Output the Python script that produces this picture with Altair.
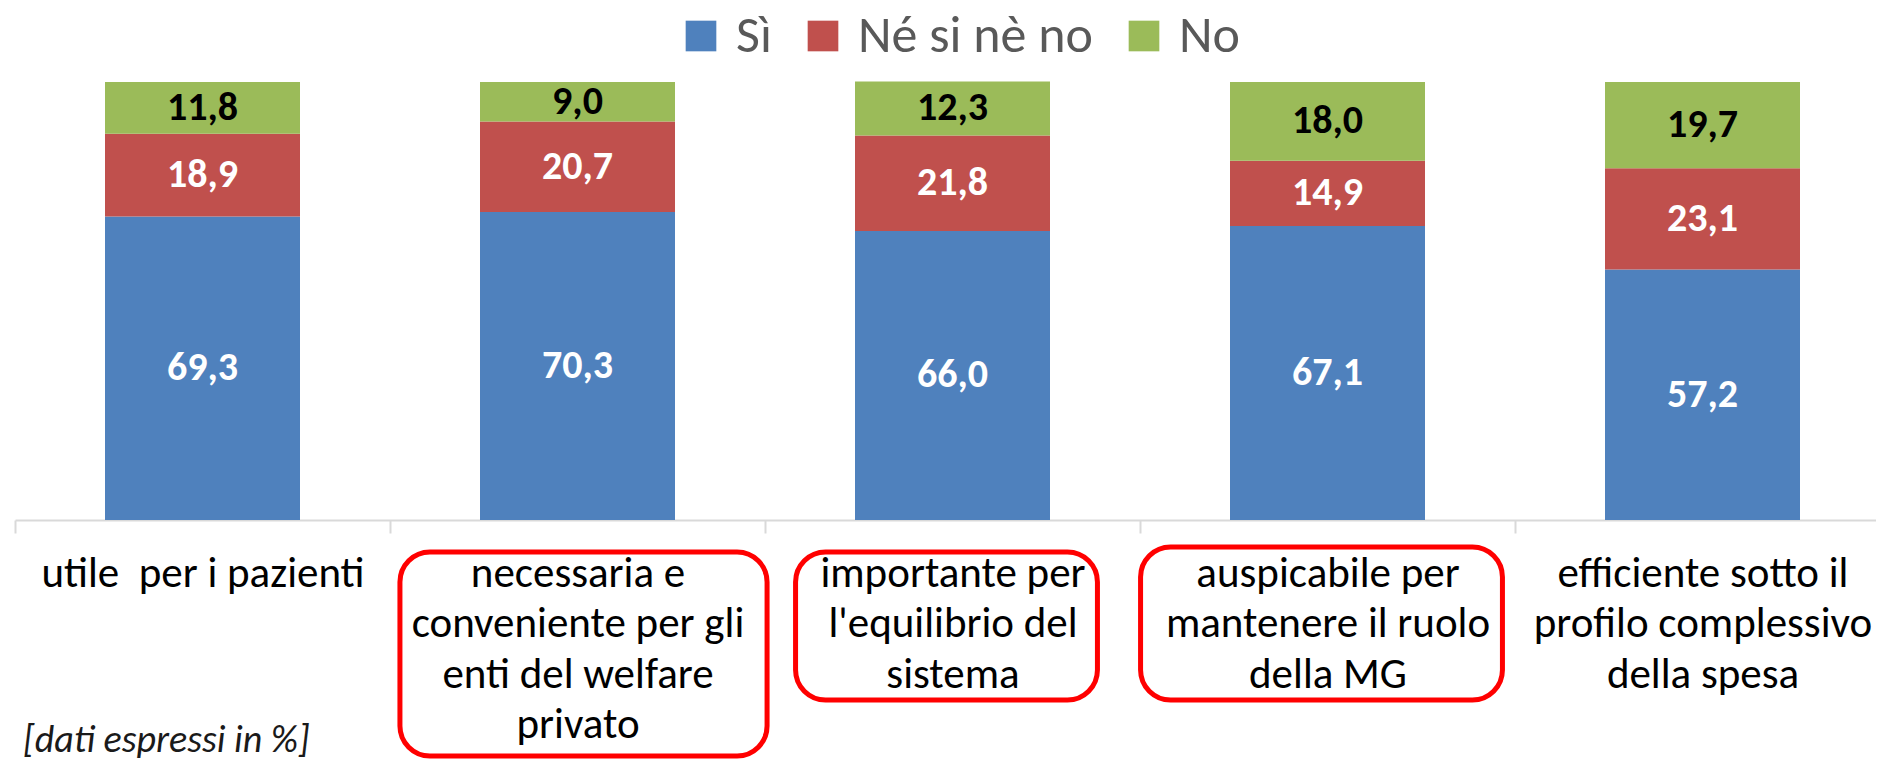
import altair as alt
import pandas as pd

categories = [
    "utile\u00a0 per i pazienti",
    "necessaria e\nconveniente per gli\nenti del welfare\nprivato",
    "importante per\nl'equilibrio del\nsistema",
    "auspicabile per\nmantenere il ruolo\ndella MG",
    "efficiente sotto il\nprofilo complessivo\ndella spesa",
]
series = ["Sì", "Né si nè no", "No"]
si = [69.3, 70.3, 66.0, 67.1, 57.2]
ne = [18.9, 20.7, 21.8, 14.9, 23.1]
no = [11.8, 9.0, 12.3, 18.0, 19.7]
colors = ["#4F81BD", "#C0504D", "#9BBB59"]
highlighted = [categories[1], categories[2], categories[3]]
note = "[dati espressi in %]"

FONT = "Carlito, Calibri, Lato, sans-serif"

rows = []
for i, c in enumerate(categories):
    for k, (s, vals) in enumerate(zip(series, [si, ne, no])):
        rows.append({"cat": c, "serie": s, "ord": k, "value": vals[i],
                     "label": f"{vals[i]:.1f}".replace(".", ",")})
df = pd.DataFrame(rows)

xscale = alt.Scale(range=[0, 1875], paddingInner=0, paddingOuter=0)
xenc = alt.X("cat:N", sort=categories, scale=xscale, title=None,
             axis=alt.Axis(labelExpr="split(datum.label, '\\n')", labelAngle=0,
                           labelFontSize=43, labelFont=FONT, labelColor="#000000",
                           labelLineHeight=50.5, labelPadding=19, labelLimit=0,
                           labelOverlap=False, tickSize=13, tickBand="extent",
                           domainColor="#D9D9D9", tickColor="#D9D9D9",
                           domainWidth=2, tickWidth=2, labelBaseline="top"))

base = alt.Chart(df).transform_stack(
    stack="value", groupby=["cat"], as_=["y0", "y1"],
    sort=[alt.SortField("ord", order="ascending")]
)

yscale = alt.Scale(domain=[0, 100], nice=False)

bars = base.mark_bar(width={"band": 0.52}).encode(
    x=xenc,
    y=alt.Y("y0:Q", scale=yscale, axis=None),
    y2="y1:Q",
    color=alt.Color("serie:N", scale=alt.Scale(domain=series, range=colors),
                    legend=alt.Legend(title=None, orient="none", direction="horizontal",
                                      legendX=660, legendY=-72, symbolType="square",
                                      symbolSize=940, symbolStrokeWidth=0,
                                      labelFont=FONT, labelFontSize=52,
                                      labelColor="#595959", labelOffset=9,
                                      columnPadding=25, labelLimit=0)),
)

labels = base.transform_calculate(mid="(datum.y0 + datum.y1) / 2").mark_text(
    font=FONT, fontSize=40, fontWeight="bold", baseline="middle", align="center"
).encode(
    x=alt.X("cat:N", sort=categories, scale=xscale),
    y=alt.Y("mid:Q", scale=yscale),
    text="label:N",
    color=alt.condition(alt.datum.serie == "No", alt.value("#000000"), alt.value("#FFFFFF")),
)

cat_df = pd.DataFrame({"cat": categories})

def box(cat, band, dx, top, bottom):
    return alt.Chart(cat_df).transform_filter(alt.datum.cat == cat).mark_rect(
        width={"band": band}, xOffset=dx, fillOpacity=0, stroke="#FF0000",
        strokeWidth=5, cornerRadius=30
    ).encode(
        x=alt.X("cat:N", sort=categories, scale=xscale),
        y=alt.value(top), y2=alt.value(bottom),
    )

boxes = [
    box(highlighted[0], 0.979, 6, 470, 674),
    box(highlighted[1], 0.805, -6, 470, 618),
    box(highlighted[2], 0.965, -6, 465, 618),
]

footnote = alt.Chart(pd.DataFrame({"t": [note]})).mark_text(
    font=FONT, fontSize=38, fontStyle="italic", align="left", baseline="middle",
    color="#1A1A1A"
).encode(x=alt.value(8), y=alt.value(659), text="t:N")

chart = alt.layer(bars, labels, *boxes, footnote).properties(
    width=1861, height=438,
    padding={"left": 7, "top": 74, "right": 0, "bottom": 239},
    autosize=alt.AutoSizeParams(type="none"),
).configure_view(stroke=None)

chart.save("out.html", embed_options={"renderer": "svg", "actions": False})
